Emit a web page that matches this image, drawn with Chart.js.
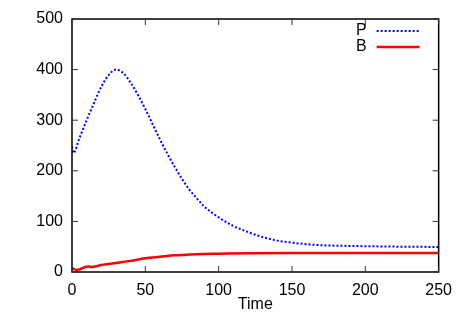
<!DOCTYPE html>
<html>
<head>
<meta charset="utf-8">
<script src="https://cdn.jsdelivr.net/npm/chart.js@4"></script>
<style>
  html, body { margin: 0; padding: 0; background: #fff; }
  #wrap { width: 463px; height: 324px; }
</style>
</head>
<body>
<div id="wrap"><canvas id="chart" width="463" height="324"></canvas></div>
<script>
const pTime = [0, 1, 5, 10, 15, 20, 25, 30, 35, 40, 45, 50, 55, 60, 65, 70, 75, 80, 85, 90, 100, 110, 120, 130, 140, 150, 160, 170, 180, 200, 225, 250];
const pValues = [248, 235, 264, 300, 334, 366, 389, 400, 393, 374, 350, 322, 292, 262, 234, 208, 184, 163, 146, 130, 108, 91, 79, 69, 62, 58, 55, 53, 52, 51, 50, 49.5];
const bTime = [0, 1, 3, 6, 9, 11, 14, 16, 20, 25, 30, 40, 50, 60, 70, 80, 90, 100, 120, 150, 200, 250];
const bValues = [8, 6, 4, 6, 10, 11, 10, 11, 14, 16, 18, 22, 27, 30, 33, 34.5, 35.5, 36, 37, 37.5, 37.5, 37.5];
const xTicks = [0, 50, 100, 150, 200, 250];
const yTicks = [0, 100, 200, 300, 400, 500];

const font = { family: '"Liberation Sans", Arial, sans-serif', size: 16, lineHeight: 1 };

const toPoints = (xs, ys) => xs.map((x, i) => ({ x: x, y: ys[i] }));

// gnuplot-like frame, inward ticks and legend (text left of sample)
const gnuFrame = {
    id: 'gnuFrame',
    afterDraw(chart) {
        const ctx = chart.ctx;
        const a = chart.chartArea;
        const xs = chart.scales.x;
        const ys = chart.scales.y;
        ctx.save();
        ctx.strokeStyle = '#000';
        ctx.lineWidth = 1.5;
        ctx.strokeRect(a.left, a.top, a.right - a.left, a.bottom - a.top);
        ctx.lineWidth = 1;
        ctx.strokeStyle = '#333';
        ctx.beginPath();
        xTicks.forEach((v) => {
            const px = xs.getPixelForValue(v);
            ctx.moveTo(px, a.bottom); ctx.lineTo(px, a.bottom - 6);
            ctx.moveTo(px, a.top); ctx.lineTo(px, a.top + 6);
        });
        yTicks.forEach((v) => {
            const py = ys.getPixelForValue(v);
            ctx.moveTo(a.left, py); ctx.lineTo(a.left + 6, py);
            ctx.moveTo(a.right, py); ctx.lineTo(a.right - 6, py);
        });
        ctx.stroke();

        ctx.font = font.size + 'px ' + font.family;
        ctx.textAlign = 'right';
        ctx.textBaseline = 'middle';
        chart.data.datasets.forEach((ds, i) => {
            const y = a.top + 12 + i * 16;
            const sx = a.right - 62;
            ctx.fillStyle = '#000';
            ctx.fillText(ds.label, sx - 10, y);
            ctx.strokeStyle = ds.borderColor;
            ctx.lineWidth = ds.borderWidth;
            ctx.setLineDash(ds.borderDash || []);
            ctx.beginPath();
            ctx.moveTo(sx, y);
            ctx.lineTo(sx + 43, y);
            ctx.stroke();
        });
        ctx.restore();
    },
};

new Chart(document.getElementById('chart'), {
    type: 'line',
    data: {
        datasets: [
            {
                label: 'P',
                data: toPoints(pTime, pValues),
                borderColor: '#0000ff',
                borderWidth: 2,
                borderDash: [2, 2],
                cubicInterpolationMode: 'monotone',
            },
            {
                label: 'B',
                data: toPoints(bTime, bValues),
                borderColor: '#ff0000',
                borderWidth: 2.5,
                cubicInterpolationMode: 'monotone',
            },
        ],
    },
    options: {
        responsive: false,
        animation: false,
        layout: { padding: { top: 19, right: 24, left: 27.3, bottom: 11 } },
        elements: { point: { radius: 0 } },
        scales: {
            x: {
                type: 'linear',
                min: 0,
                max: 250,
                afterBuildTicks: (axis) => { axis.ticks = xTicks.map((v) => ({ value: v })); },
                ticks: { color: '#000', font: font, padding: 11, maxRotation: 0 },
                grid: { display: false, drawTicks: false },
                border: { display: false },
                title: { display: true, text: 'Time', color: '#000', font: font, padding: { top: -13, bottom: 0 } },
            },
            y: {
                min: 0,
                max: 500,
                afterBuildTicks: (axis) => { axis.ticks = yTicks.map((v) => ({ value: v })); },
                ticks: { color: '#000', font: font, padding: 9 },
                grid: { display: false, drawTicks: false },
                border: { display: false },
            },
        },
        plugins: {
            legend: { display: false },
            tooltip: { enabled: false },
        },
    },
    plugins: [gnuFrame],
});
</script>
</body>
</html>
